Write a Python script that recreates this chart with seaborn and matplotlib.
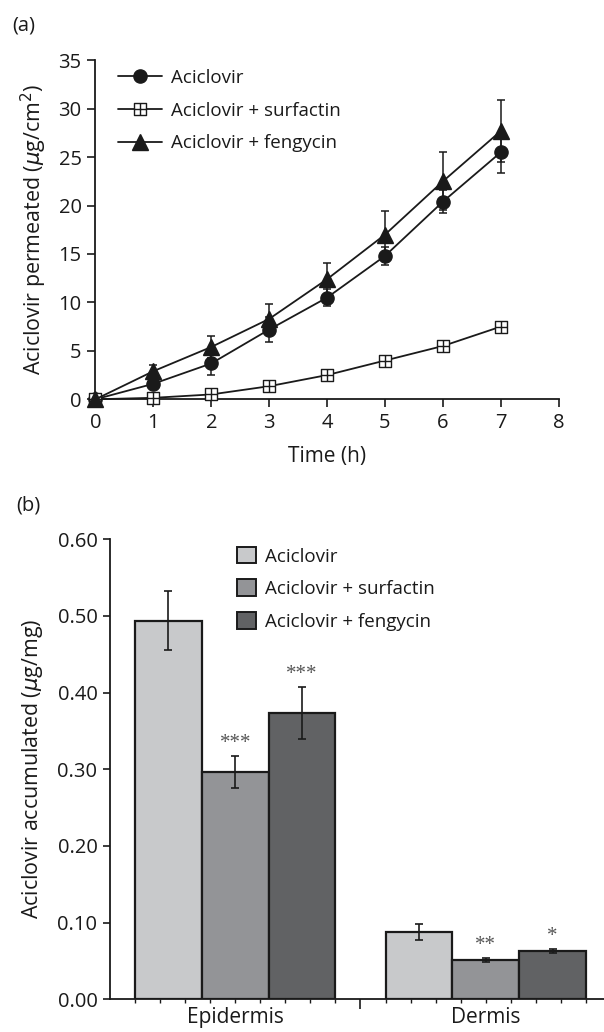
import numpy as np
import pandas as pd
import matplotlib
matplotlib.use("Agg")
import matplotlib.pyplot as plt
from matplotlib.path import Path
import seaborn as sns

# ---------------- data ----------------
time_h = [0, 1, 2, 3, 4, 5, 6, 7]
acv_mean = [0.0, 1.6, 3.7, 7.2, 10.5, 14.8, 20.4, 25.5]
acv_err = [0.0, 0.5, 1.2, 1.3, 0.9, 0.9, 1.2, 2.1]
surf_mean = [0.0, 0.15, 0.5, 1.35, 2.5, 4.0, 5.5, 7.5]
surf_err = [0.0, 0.1, 0.1, 0.15, 0.2, 0.2, 0.25, 0.3]
feng_mean = [0.0, 2.9, 5.4, 8.3, 12.4, 17.0, 22.5, 27.7]
feng_err = [0.0, 0.6, 1.1, 1.5, 1.7, 2.4, 3.0, 3.2]
series_names = ["Aciclovir", "Aciclovir + surfactin", "Aciclovir + fengycin"]

sites = ["Epidermis", "Dermis"]
bar_acv = [0.494, 0.088]
bar_acv_err = [0.038, 0.010]
bar_surf = [0.296, 0.051]
bar_surf_err = [0.021, 0.003]
bar_feng = [0.373, 0.063]
bar_feng_err = [0.034, 0.002]
stars_surf = ["***", "**"]
stars_feng = ["***", "*"]

y1_ticks = [0, 5, 10, 15, 20, 25, 30, 35]
x1_ticks = [0, 1, 2, 3, 4, 5, 6, 7, 8]
y2_ticks = [0.0, 0.1, 0.2, 0.3, 0.4, 0.5, 0.6]

# ---------------- style ----------------
sns.set_theme(style="ticks")
plt.rcParams["font.family"] = ["Open Sans", "DejaVu Sans"]
plt.rcParams["mathtext.fontset"] = "dejavusans"
INK = "#1a1a1a"

fig = plt.figure(figsize=(6.04, 10.32), dpi=100)

# ---------------- panel (a) ----------------
ax1 = fig.add_axes([0.1581, 0.6131, 0.7669, 0.3285])

sq_verts = [(-1, -1), (1, -1), (1, 1), (-1, 1), (-1, -1),
            (0, -1), (0, 1), (-1, 0), (1, 0)]
sq_codes = [Path.MOVETO, Path.LINETO, Path.LINETO, Path.LINETO, Path.CLOSEPOLY,
            Path.MOVETO, Path.LINETO, Path.MOVETO, Path.LINETO]
sq_cross = Path(sq_verts, sq_codes)

specs = [
    (acv_mean, acv_err, "o", 9.5, INK),
    (surf_mean, surf_err, sq_cross, 8.0, "white"),
    (feng_mean, feng_err, "^", 11.0, INK),
]
for name, (m, e, mk, ms, fc) in zip(series_names, specs):
    ax1.errorbar(time_h, m, yerr=e, fmt="none", ecolor=INK, elinewidth=1.1,
                 capsize=3, capthick=1.1, zorder=2)
    sns.lineplot(x=time_h, y=m, ax=ax1, color=INK, linewidth=1.3,
                 marker=mk, markersize=ms, markerfacecolor=fc,
                 markeredgecolor=INK, markeredgewidth=1.0,
                 label=name, clip_on=False, zorder=3)

ax1.set_xlim(0, 8)
ax1.set_ylim(0, 35)
ax1.set_xticks(x1_ticks)
ax1.set_yticks(y1_ticks)
ax1.tick_params(axis="both", labelsize=14.5, length=6, width=1.2,
                color=INK, labelcolor=INK, pad=4)
for s in ["left", "bottom"]:
    ax1.spines[s].set_linewidth(1.3)
    ax1.spines[s].set_color(INK)
sns.despine(ax=ax1)
ax1.set_xlabel("Time (h)", fontsize=15, color=INK, labelpad=9)
ax1.set_ylabel(r"Aciclovir permeated ($\mu$g/cm$^{2}$)", fontsize=15.4,
               color=INK, labelpad=7)
leg1 = ax1.legend(loc="upper left", bbox_to_anchor=(0.049, 0.975), frameon=False,
                  fontsize=13.5, handlelength=2.35, handletextpad=0.45,
                  labelspacing=0.79, borderaxespad=0, borderpad=0)
for t in leg1.get_texts():
    t.set_color(INK)

fig.text(12 / 604, 1 - 25 / 1032, "(a)", fontsize=14.5, va="center", ha="left",
         color=INK)

# ---------------- panel (b) ----------------
ax2 = fig.add_axes([0.1821, 0.03169, 0.8295, 0.4457])

df = pd.DataFrame({
    "site": sites * 3,
    "value": bar_acv + bar_surf + bar_feng,
    "group": [series_names[0]] * 2 + [series_names[1]] * 2 + [series_names[2]] * 2,
})
bar_colors = ["#c8c9cb", "#939497", "#616264"]
sns.barplot(data=df, x="site", y="value", hue="group", hue_order=series_names,
            order=sites, palette=bar_colors, errorbar=None, width=0.8, gap=0,
            edgecolor=INK, linewidth=1.6, ax=ax2, saturation=1)

bar_containers = list(ax2.containers)
errs = [bar_acv_err, bar_surf_err, bar_feng_err]
stars = [None, stars_surf, stars_feng]
for ci, cont in enumerate(bar_containers):
    xs = [p.get_x() + p.get_width() / 2 for p in cont.patches]
    hs = [p.get_height() for p in cont.patches]
    ax2.errorbar(xs, hs, yerr=errs[ci], fmt="none", ecolor=INK, elinewidth=1.2,
                 capsize=3, capthick=1.2, zorder=5)
    if stars[ci] is not None:
        for x, h, e, s in zip(xs, hs, errs[ci], stars[ci]):
            ax2.text(x, h + e + 0.004, s, ha="center", va="bottom",
                     fontsize=15, color="#555555",
                     family=["Liberation Serif", "DejaVu Serif"])

ax2.set_xlim(-0.5, 1.5)
ax2.set_ylim(0, 0.6)
ax2.set_yticks(y2_ticks)
ax2.set_yticklabels([f"{v:.2f}" for v in y2_ticks])
ax2.set_xticks([0, 1])
ax2.set_xticklabels(sites)
minor = [c + d for c in (0, 1) for d in (-0.4, -0.3, -0.2, -0.1, 0.1, 0.2, 0.3, 0.4)]
ax2.set_xticks(minor, minor=True)
ax2.tick_params(axis="x", which="both", length=3, width=1.0, color=INK,
                labelsize=15, labelcolor=INK, pad=2.5)
ax2.tick_params(axis="y", length=5, width=1.2, color=INK, labelsize=14.5,
                labelcolor=INK, pad=4)
sec = ax2.secondary_xaxis("bottom")
sec.set_xticks([0.5])
sec.set_xticklabels([""])
sec.tick_params(length=7, width=1.2, color=INK)
sec.spines["bottom"].set_visible(False)
for s in ["left", "bottom"]:
    ax2.spines[s].set_linewidth(1.3)
    ax2.spines[s].set_color(INK)
sns.despine(ax=ax2)
ax2.set_xlabel("")
ax2.set_ylabel(r"Aciclovir accumulated ($\mu$g/mg)", fontsize=15.4, color=INK,
               labelpad=9)

ax2.get_legend().remove()
handles = [plt.Rectangle((0, 0), 1, 1, facecolor=c, edgecolor=INK, linewidth=1.4)
           for c in bar_colors]
leg2 = ax2.legend(handles, series_names, loc="upper left",
                  bbox_to_anchor=(0.2535, 0.984), frameon=False, fontsize=13.5,
                  handlelength=1.0, handleheight=1.0, handletextpad=0.5,
                  labelspacing=0.74, borderaxespad=0, borderpad=0)
for t in leg2.get_texts():
    t.set_color(INK)

fig.text(16 / 604, 1 - 505 / 1032, "(b)", fontsize=14.5, va="center", ha="left",
         color=INK)

fig.savefig("out.png", dpi=100)
